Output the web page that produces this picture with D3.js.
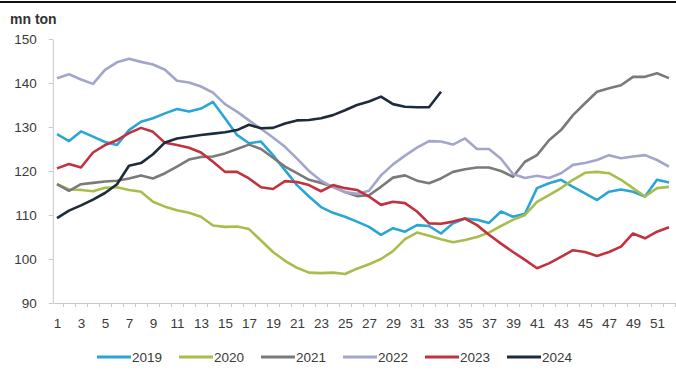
<!DOCTYPE html>
<html>
<head>
<meta charset="utf-8">
<script src="https://cdn.jsdelivr.net/npm/d3@7"></script>
<style>
  body { margin: 0; background: #fff; }
  text { font-family: "Liberation Sans", Arial, sans-serif; }
</style>
</head>
<body>
<div id="chart"></div>
<script>
// weekly values, mn ton
const weeks = d3.range(1, 53);
const xTickLabels = d3.range(1, 52, 2);
const yTicks = [90, 100, 110, 120, 130, 140, 150];
const years = ["2019", "2020", "2021", "2022", "2023", "2024"];
const colors = ["#2aa6d6", "#a8bd4c", "#7a7a7a", "#a3a6cb", "#c1323f", "#1d2b3b"];

const v2019 = [128.4, 126.8, 129.0, 127.8, 126.6, 125.9, 129.3, 131.2, 132.0, 133.1, 134.1, 133.5, 134.2, 135.7, 132.0, 128.2, 126.3, 126.7, 123.6, 120.2, 116.8, 114.2, 111.8, 110.5, 109.6, 108.5, 107.3, 105.5, 107.0, 106.2, 107.7, 107.5, 105.8, 108.1, 109.2, 108.9, 108.2, 110.8, 109.6, 110.3, 116.1, 117.2, 118.0, 116.4, 114.9, 113.4, 115.3, 115.8, 115.3, 114.2, 118.0, 117.4];
const v2020 = [117.0, 115.8, 115.7, 115.4, 116.2, 116.3, 115.7, 115.3, 113.0, 111.9, 111.1, 110.5, 109.6, 107.6, 107.3, 107.4, 106.8, 104.2, 101.6, 99.6, 98.0, 96.9, 96.8, 96.9, 96.6, 97.8, 98.8, 100.0, 101.8, 104.5, 106.0, 105.3, 104.5, 103.8, 104.3, 105.0, 106.0, 107.5, 108.9, 110.0, 113.0, 114.5, 116.1, 118.0, 119.6, 119.8, 119.5, 118.0, 116.1, 114.2, 116.1, 116.4];
const v2021 = [117.0, 115.5, 117.0, 117.3, 117.6, 117.8, 118.3, 119.0, 118.3, 119.5, 121.0, 122.6, 123.2, 123.3, 124.0, 125.0, 126.0, 125.0, 123.0, 121.0, 119.5, 118.0, 117.3, 116.5, 115.2, 114.3, 114.5, 116.4, 118.5, 119.0, 117.8, 117.2, 118.3, 119.8, 120.4, 120.8, 120.8, 120.0, 118.7, 122.1, 123.6, 127.0, 129.3, 132.7, 135.4, 138.0, 138.8, 139.5, 141.4, 141.4, 142.2, 141.1];
const v2022 = [141.1, 142.0, 140.8, 139.8, 143.0, 144.7, 145.5, 144.8, 144.2, 143.0, 140.5, 140.1, 139.2, 137.8, 135.2, 133.5, 131.5, 129.6, 127.6, 125.5, 122.8, 120.0, 117.8, 116.3, 115.2, 114.8, 115.5, 119.0, 121.5, 123.5, 125.3, 126.8, 126.7, 126.0, 127.4, 125.0, 125.0, 122.8, 119.3, 118.4, 118.9, 118.4, 119.5, 121.4, 121.8, 122.5, 123.6, 122.9, 123.3, 123.6, 122.5, 121.0];
const v2023 = [120.6, 121.6, 120.8, 124.2, 125.9, 127.0, 128.6, 129.8, 128.9, 126.4, 125.9, 125.3, 124.2, 122.1, 119.8, 119.8, 118.3, 116.3, 115.9, 117.7, 117.5, 116.8, 115.4, 116.8, 116.1, 115.7, 114.2, 112.3, 113.0, 112.7, 110.8, 108.1, 108.0, 108.5, 109.2, 107.7, 105.5, 103.5, 101.6, 99.8, 97.9, 99.0, 100.5, 102.0, 101.6, 100.7, 101.6, 102.8, 105.8, 104.7, 106.2, 107.2];
const v2024 = [109.3, 111.0, 112.2, 113.5, 115.0, 117.0, 121.2, 121.8, 123.8, 126.5, 127.4, 127.8, 128.2, 128.5, 128.8, 129.3, 130.5, 129.7, 129.8, 130.8, 131.5, 131.6, 132.0, 132.7, 133.8, 135.0, 135.8, 136.9, 135.2, 134.6, 134.5, 134.5, 138.0];

const seriesValues = [v2019, v2020, v2021, v2022, v2023, v2024];

const W = 676, H = 374;
const margin = { top: 39, right: 1, bottom: 71, left: 53 };

const svg = d3.select("#chart").append("svg")
  .attr("width", W)
  .attr("height", H);

// rule at the very top (header cut off)
svg.append("line")
  .attr("x1", 0).attr("x2", W)
  .attr("y1", 2).attr("y2", 2)
  .attr("stroke", "#111")
  .attr("stroke-width", 2);

let x = d3.scaleLinear()
  .domain([0.65, 52.5])
  .range([margin.left - 0.2, W - margin.right]);

let y = d3.scaleLinear()
  .domain([90, 150])
  .range([H - margin.bottom, margin.top]);

// y axis
let yAxis = svg.append("g")
  .attr("transform", "translate(" + x(0.65) + ",0)")
  .call(d3.axisLeft(y).tickValues(yTicks).tickSize(4).tickPadding(12).tickSizeOuter(0));
yAxis.select(".domain").attr("stroke", "#c8c8c8");
yAxis.selectAll(".tick line").attr("stroke", "#c8c8c8");
yAxis.selectAll("text")
  .attr("fill", "#3a3a3a")
  .style("font-size", "13.5px");

// x axis minor ticks at week boundaries
let xTicks = svg.append("g")
  .attr("transform", "translate(0," + y(90) + ")")
  .call(d3.axisBottom(x).tickValues(weeks.map(w => w + 0.5)).tickSize(4).tickFormat("").tickSizeOuter(0));
xTicks.select(".domain").attr("stroke", "#c8c8c8");
xTicks.selectAll(".tick line").attr("stroke", "#c8c8c8");

// x axis labels
let xLabels = svg.append("g")
  .attr("transform", "translate(0," + y(90) + ")")
  .call(d3.axisBottom(x).tickValues(xTickLabels).tickSize(0).tickPadding(15));
xLabels.select(".domain").remove();
xLabels.selectAll("text")
  .attr("fill", "#3a3a3a")
  .style("font-size", "13.5px");

// unit label
svg.append("text")
  .attr("x", 10)
  .attr("y", 24)
  .attr("fill", "#333")
  .style("font-size", "14px")
  .style("font-weight", "bold")
  .text("mn ton");

let line = d3.line()
  .x((d, i) => x(weeks[i]))
  .y(d => y(d));

svg.append("g")
  .selectAll("path")
  .data(seriesValues)
  .enter()
  .append("path")
  .attr("fill", "none")
  .attr("stroke", (d, i) => colors[i])
  .attr("stroke-width", 2.6)
  .attr("stroke-linejoin", "round")
  .attr("d", d => line(d));

// legend
let legend = svg.append("g")
  .attr("transform", "translate(97,357)");

let item = legend.selectAll("g")
  .data(years)
  .enter()
  .append("g")
  .attr("transform", (d, i) => "translate(" + (i * 82) + ",0)");

item.append("line")
  .attr("x1", 0).attr("x2", 34)
  .attr("y1", 0).attr("y2", 0)
  .attr("stroke", (d, i) => colors[i])
  .attr("stroke-width", 3);

item.append("text")
  .attr("x", 35)
  .attr("y", 0)
  .attr("dy", "0.35em")
  .attr("fill", "#3a3a3a")
  .style("font-size", "13.5px")
  .text(d => d);
</script>
</body>
</html>
